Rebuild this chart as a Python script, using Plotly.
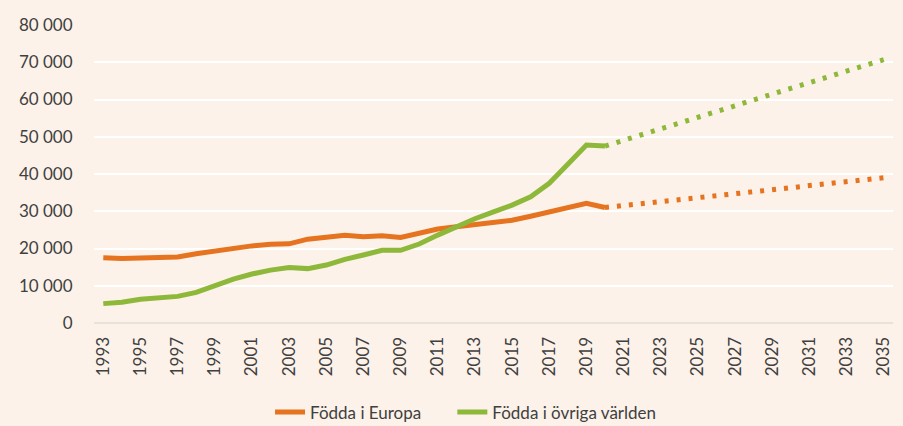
import plotly.graph_objects as go

years_hist = list(range(1993, 2021))
europa_hist = [17500, 17300, 17450, 17650, 17700, 18600, 19300, 20300, 20700, 21150, 21250,
               22500, 22950, 23550, 23150, 23400, 22950, 24000, 25250, 25850, 26450, 27000,
               27600, 28650, 29750, 31000, 32100, 31000]
varlden_hist = [5200, 5550, 6350, 6850, 7150, 8200, 10000, 11800, 13150, 14200, 14900,
                14600, 15550, 17100, 18250, 19500, 19500, 21200, 23600, 25850, 28000, 29850,
                31650, 33900, 37500, 42600, 47800, 47500]

years_proj = list(range(2020, 2036))
europa_proj = [31000, 31500, 32100, 32600, 33100, 33700, 34200, 34700, 35300, 35800,
               36300, 36900, 37400, 37900, 38500, 39000]
varlden_proj = [47500, 49000, 50600, 52100, 53700, 55200, 56800, 58300, 59900, 61400,
                63000, 64500, 66100, 67600, 69200, 70700]

y_ticks = [0, 10000, 20000, 30000, 40000, 50000, 60000, 70000, 80000]
y_labels = ["0", "10 000", "20 000", "30 000", "40 000", "50 000", "60 000", "70 000", "80 000"]
x_ticks = list(range(1993, 2036, 2))

ORANGE = "#E6731F"
GREEN = "#8DB83A"
BG = "#FCF2E9"
FONT = "Lato"

fig = go.Figure()
fig.add_trace(go.Scatter(x=years_hist, y=europa_hist, mode="lines", name="Födda i Europa      ",
                         line=dict(color=ORANGE, width=5)))
fig.add_trace(go.Scatter(x=years_hist, y=varlden_hist, mode="lines", name="Födda i övriga världen",
                         line=dict(color=GREEN, width=5)))
fig.add_trace(go.Scatter(x=years_proj, y=europa_proj, mode="lines", showlegend=False,
                         line=dict(color=ORANGE, width=5, dash="4px,8px")))
fig.add_trace(go.Scatter(x=years_proj, y=varlden_proj, mode="lines", showlegend=False,
                         line=dict(color=GREEN, width=5, dash="4px,8px")))

fig.update_layout(
    width=903, height=426,
    margin=dict(l=94, r=10, t=25, b=103, autoexpand=False),
    paper_bgcolor=BG, plot_bgcolor=BG,
    font=dict(family=FONT, color="#404040", size=17),
    legend=dict(orientation="h", x=0.465, xanchor="center", y=-0.30, yanchor="middle",
                font=dict(size=17), itemwidth=30, tracegroupgap=0, bgcolor="rgba(0,0,0,0)"),
    xaxis=dict(range=[1992.5, 2035.5], tickvals=x_ticks, ticktext=[str(v) for v in x_ticks],
               tickangle=-90, showgrid=False, zeroline=False, showline=False,
               ticks="outside", ticklen=6, tickcolor="rgba(0,0,0,0)", automargin=False),
    yaxis=dict(range=[0, 80000], tickvals=y_ticks, ticktext=y_labels,
               showgrid=True, gridcolor="#FFFFFF", gridwidth=2,
               zeroline=True, zerolinecolor="#E8E2DB", zerolinewidth=2,
               ticks="outside", ticklen=17, tickcolor="rgba(0,0,0,0)", automargin=False),
    showlegend=True,
)

fig.write_html("out.html", config={"displayModeBar": False},
               post_script="document.body.style.margin='0';document.body.style.background='" + BG + "';")
